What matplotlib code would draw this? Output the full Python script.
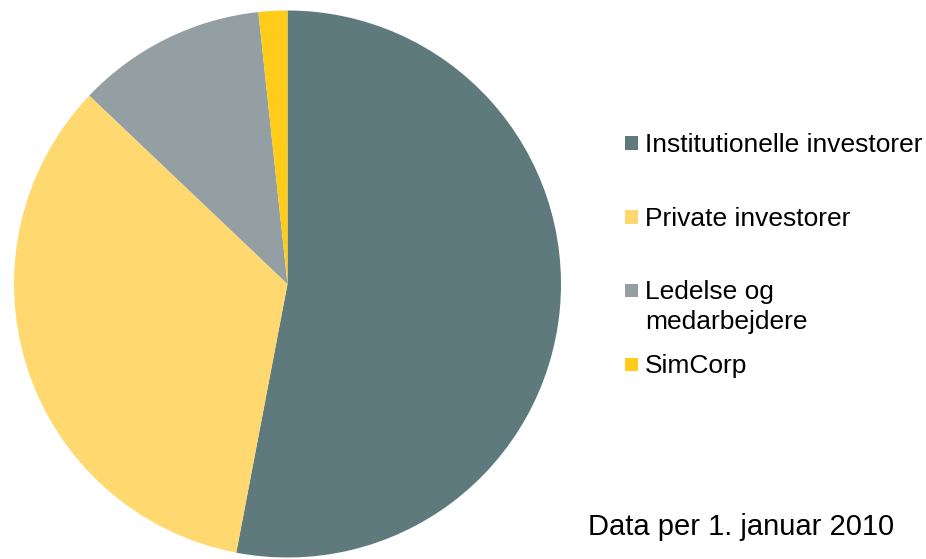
import matplotlib
matplotlib.use("Agg")
import matplotlib.pyplot as plt
from matplotlib.patches import Rectangle

# Aktionærfordeling (%)
labels = ["Institutionelle investorer", "Private investorer",
          "Ledelse og\nmedarbejdere", "SimCorp"]
shares = [53.0, 34.1, 11.2, 1.7]
colors = ["#5f7a7c", "#ffd970", "#939fa3", "#ffcc1a"]
note = "Data per 1. januar 2010"

W, H = 926, 559
plt.rcParams["font.family"] = ["Liberation Sans", "DejaVu Sans"]

fig = plt.figure(figsize=(W / 100, H / 100), dpi=100)


def fx(px):
    return px / W


def fy(py):
    return 1 - py / H


# pie axes: square box in pixels
cx, cy, r = 287.5, 284, 273.5
ax = fig.add_axes([fx(cx - r), fy(cy + r), 2 * r / W, 2 * r / H])
ax.pie(shares, colors=colors, startangle=90, counterclock=False,
       radius=1, wedgeprops=dict(linewidth=0))
ax.set_xlim(-1, 1)
ax.set_ylim(-1, 1)
ax.set_aspect("auto")
ax.axis("off")

# legend by hand
rows_y = [143, 217, 290, 364]
for lab, col, y in zip(labels, colors, rows_y):
    fig.add_artist(Rectangle((fx(625), fy(y + 6.5)), 13 / W, 13 / H,
                             transform=fig.transFigure, color=col, lw=0))
    fig.text(fx(645), fy(y - 10), lab, fontsize=19, va="top", ha="left",
             linespacing=1.32)

fig.text(fx(588), fy(527), note, fontsize=21, va="center", ha="left")

fig.savefig("out.png", dpi=100)
